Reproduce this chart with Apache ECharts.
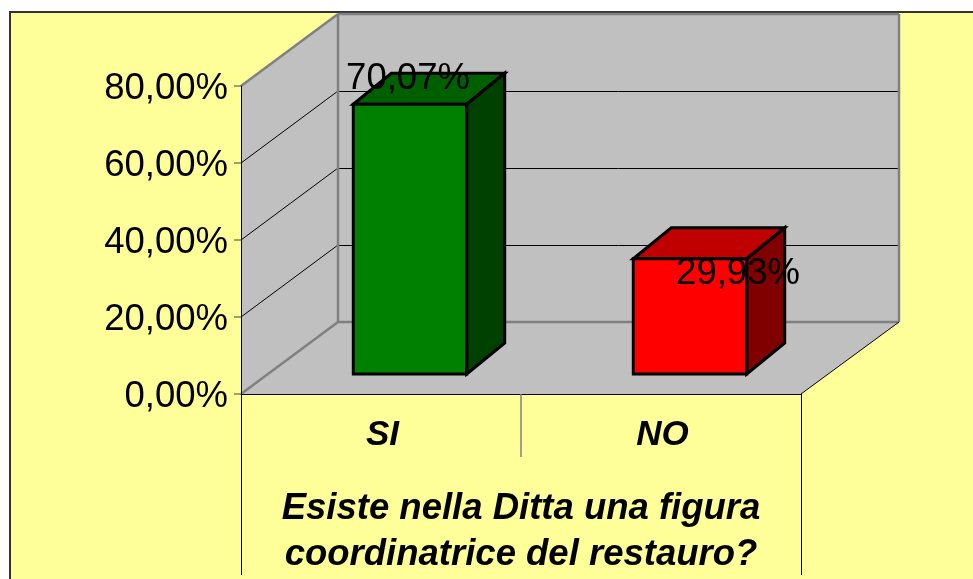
<!DOCTYPE html>
<html><head><meta charset="utf-8">
<style>html,body{margin:0;padding:0;background:#fff}#c{width:973px;height:579px}</style>
<script src="https://cdn.jsdelivr.net/npm/echarts@6/dist/echarts.min.js"></script>
</head><body><div id="c"></div>
<script>
const categories = ['SI','NO'];
const values = [70.07, 29.93];
const yTicks = [0,20,40,60,80];
const axisTitle = 'Esiste nella Ditta una figura\ncoordinatrice del restauro?';

const FONT = '"Liberation Sans", Arial, sans-serif';
const faceColors = [['#008000','#006000','#004000'],['#ff0000','#c00000','#800000']];
const labelNudge = [[-2,-25],[48,15]];
const fmt = v => v.toFixed(2).replace('.',',') + '%';
const wallDX = 97, wallDY = -72, wallExtra = 1;
const barFrontDX = 29, barFrontDY = -20, barDX = 38, barDY = -31, barFrac = 0.405;

function poly(points, fill, stroke, lw){
  return {type:'polygon',shape:{points},style:{fill,stroke:stroke||'none',lineWidth:lw||0,lineJoin:'miter'}};
}
function line(x1,y1,x2,y2,stroke,lw){
  return {type:'line',shape:{x1,y1,x2,y2},style:{stroke,lineWidth:lw}};
}
function renderWalls(params, api){
  const g = params.coordSys, L=g.x, R=g.x+g.width, T=g.y, B=g.y+g.height;
  const dx=wallDX, dy=wallDY, ch=[], edge='#808080', RB=R+dx+wallExtra;
  ch.push(poly([[L+dx,T+dy],[RB,T+dy],[RB,B+dy],[L+dx,B+dy]],'#c0c0c0'));
  ch.push(poly([[L,T],[L+dx,T+dy],[L+dx,B+dy],[L,B]],'#c0c0c0'));
  ch.push(poly([[L,B],[R,B],[RB,B+dy],[L+dx,B+dy]],'#c0c0c0'));
  yTicks.forEach(v=>{
    if(v===0||v===80) return;
    const y=Math.round(api.coord([0,v])[1]);
    ch.push(line(L,y,L+dx,y+dy,'#000',1));
    ch.push(line(L+dx,y+dy+.5,RB,y+dy+.5,'#000',1));
  });
  ch.push(line(L,T,L+dx,T+dy,edge,2.5));
  ch.push(line(L,B,L+dx,B+dy,edge,2.5));
  ch.push(line(L+dx,T+dy,L+dx,B+dy,edge,2.5));
  ch.push(line(L+dx,T+dy,RB,T+dy,edge,2.5));
  ch.push(line(RB,T+dy,RB,B+dy,edge,2.5));
  ch.push(line(L+dx,B+dy,RB,B+dy,edge,2.5));
  ch.push(line(R,B,RB,B+dy,'#000',1));
  return {type:'group',children:ch};
}
function renderFrame(params){
  const g = params.coordSys, L=g.x, R=g.x+g.width, B=g.y+g.height, M=g.x+g.width/2;
  return {type:'group',children:[
    line(L+.5,B,L+.5,575,'#000',1),
    line(R+.5,B,R+.5,575,'#000',1),
    line(M,B,M,457,'#808080',1.5)
  ]};
}
function renderBar(params, api){
  const i=api.value(0), v=api.value(1);
  const top=api.coord([i,v]), base=api.coord([i,0]);
  const w=api.size([1,0])[0]*barFrac;
  const x0=top[0]-w/2+barFrontDX, x1=x0+w, yT=top[1]+barFrontDY, yB=base[1]+barFrontDY;
  const c=faceColors[i], s='#000', lw=3;
  const n=labelNudge[i];
  return {type:'group',children:[
    poly([[x0,yT],[x0+barDX,yT+barDY],[x1+barDX,yT+barDY],[x1,yT]],c[1],s,lw),
    poly([[x1,yT],[x1+barDX,yT+barDY],[x1+barDX,yB+barDY],[x1,yB]],c[2],s,lw),
    poly([[x0,yT],[x1,yT],[x1,yB],[x0,yB]],c[0],s,lw),
    {type:'text',x:(x0+x1)/2+n[0],y:yT+n[1],style:{text:fmt(v),font:'36.5px '+FONT,fill:'#000',align:'center',verticalAlign:'middle'}}
  ]};
}
const chart = echarts.init(document.getElementById('c'),null,{renderer:'canvas'});
chart.setOption({
  animation:false,
  backgroundColor:'#fff',
  graphic:[{type:'rect',z:-10,shape:{x:10,y:12,width:980,height:600},style:{fill:'#ffff99',stroke:'#333',lineWidth:2}}],
  grid:{left:241,top:86,width:560,height:308,containLabel:false,outerBoundsMode:'none'},
  xAxis:{type:'category',data:categories,z:2,
    axisLine:{lineStyle:{color:'#000',width:1}},
    axisTick:{show:false},
    axisLabel:{color:'#000',fontFamily:'Liberation Sans',fontStyle:'italic',fontWeight:'bold',fontSize:35,margin:24,padding:[0,0,0,3]},
    name:axisTitle,nameLocation:'middle',nameGap:92,
    nameTextStyle:{color:'#000',fontFamily:'Liberation Sans',fontStyle:'italic',fontWeight:'bold',fontSize:36.5,lineHeight:46,align:'center',verticalAlign:'top'}
  },
  yAxis:{type:'value',min:0,max:80,interval:20,z:2,
    axisLine:{show:true,lineStyle:{color:'#000',width:1}},
    axisTick:{show:true,length:7,lineStyle:{color:'#808060',width:1.5}},
    splitLine:{show:false},
    axisLabel:{color:'#000',fontFamily:'Liberation Sans',fontSize:36.5,margin:13,verticalAlign:'top',lineHeight:6,formatter:fmt}
  },
  series:[
    {type:'custom',z:1,coordinateSystem:'cartesian2d',silent:true,renderItem:renderWalls,data:[[0,0]]},
    {type:'custom',z:3,coordinateSystem:'cartesian2d',silent:true,renderItem:renderFrame,data:[[0,0]]},
    {type:'custom',z:4,coordinateSystem:'cartesian2d',silent:true,renderItem:renderBar,encode:{x:0,y:1},data:values.map((v,i)=>[i,v])}
  ]
});
</script></body></html>
